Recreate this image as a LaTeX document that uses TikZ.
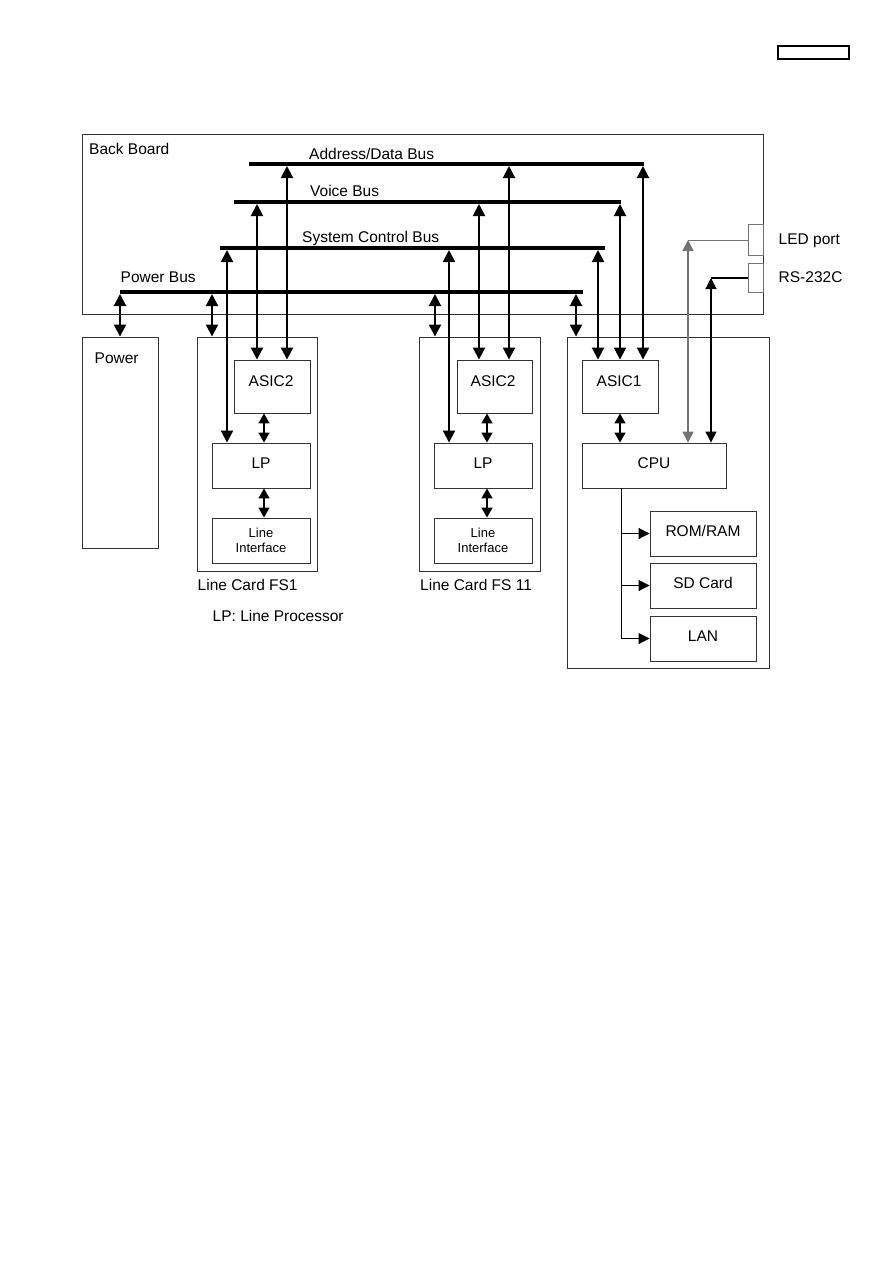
\documentclass[tikz,border=0pt]{standalone}
\usepackage{fontspec}
\setmainfont{Liberation Sans}
\usetikzlibrary{arrows.meta}

\begin{document}
\begin{tikzpicture}[x=1pt, y=-1pt,
    box/.style={draw=black!80, line width=0.9pt, inner sep=0pt},
    boxtxt/.style={font=\fontsize{15.5}{18}\selectfont, text height=11pt, text depth=5pt},
    txt/.style={font=\fontsize{15.5}{18}\selectfont, inner sep=0pt, anchor=base west},
    small/.style={font=\fontsize{13}{15}\selectfont, align=center},
    bus/.style={line width=4.5pt},
    both/.style={line width=2pt, {Triangle[length=12pt,width=12pt]}-{Triangle[length=12pt,width=12pt]}},
    link/.style={line width=1.6pt, {Triangle[length=10pt,width=11pt]}-{Triangle[length=10pt,width=11pt]}},
    port/.style={line width=1.2pt, {Triangle[length=11pt,width=11pt]}-{Triangle[length=11pt,width=11pt]}},
    feed/.style={line width=0.9pt, -{Triangle[length=11pt,width=11pt]}}]

    \useasboundingbox (0,0) rectangle (893,1263);

    % Page tag
    \node[draw, line width=1.4pt, minimum width=71pt, minimum height=13pt, inner sep=0pt] (tag) at (813.5,52.5) {};

    % Back board
    \node[box, minimum width=681pt, minimum height=180pt] (board) at (422.5,224) {};
    \node[txt] (boardl) at (89,154.5) {Back Board};

    % Buses
    \draw[bus] (249,164) coordinate (adw) -- (644,164) coordinate (ade);
    \draw[bus] (234,202) coordinate (vow) -- (621,202) coordinate (voe);
    \draw[bus] (220,248) coordinate (scw) -- (605,248) coordinate (sce);
    \draw[bus] (120,292) coordinate (pww) -- (583,292) coordinate (pwe);
    \node[txt] (adl) at (309,159) {Address/Data Bus};
    \node[txt] (vol) at (310,196.5) {Voice Bus};
    \node[txt] (scl) at (302,242) {System Control Bus};
    \node[txt] (pwl) at (120.5,282) {Power Bus};

    % Power unit
    \node[box, minimum width=76pt, minimum height=211pt] (power) at (120,442.5) {};
    \node[txt] (powerl) at (94.5,363.5) {Power};

    % Line card FS1
    \node[box, minimum width=120pt, minimum height=234pt] (cardA) at (257,454) {};
    \node[box, minimum width=76pt, minimum height=53pt] (asicA) at (272,386.5) {};
    \node[txt] (asicAl) at (248.5,386) {ASIC2};
    \node[box, boxtxt, minimum width=98pt, minimum height=45pt] (lpA) at (261,465.5) {LP};
    \node[box, small, minimum width=98pt, minimum height=45pt] (liA) at (261,540.5) {Line\\Interface};
    \node[txt] (cardAl) at (197.5,590) {Line Card FS1};
    \node[txt] (lpnote) at (212.5,621) {LP: Line Processor};

    % Line card FS 11
    \node[box, minimum width=121pt, minimum height=234pt] (cardB) at (479.5,454) {};
    \node[box, minimum width=75pt, minimum height=53pt] (asicB) at (494.5,386.5) {};
    \node[txt] (asicBl) at (470.5,386) {ASIC2};
    \node[box, boxtxt, minimum width=98pt, minimum height=45pt] (lpB) at (483,465.5) {LP};
    \node[box, small, minimum width=98pt, minimum height=45pt] (liB) at (483,540.5) {Line\\Interface};
    \node[txt] (cardBl) at (420,590) {Line Card FS 11};

    % Main card
    \node[box, minimum width=202pt, minimum height=331pt] (cardC) at (668,502.5) {};
    \node[box, minimum width=76pt, minimum height=53pt] (asicC) at (620,386.5) {};
    \node[txt] (asicCl) at (596.5,386) {ASIC1};
    \node[box, boxtxt, minimum width=144pt, minimum height=45pt] (cpu) at (654,465.5) {CPU};
    \node[box, boxtxt, minimum width=106pt, minimum height=45pt] (rom) at (703,533.5) {ROM/RAM};
    \node[box, boxtxt, minimum width=106pt, minimum height=45pt] (sd) at (703,585.5) {SD Card};
    \node[box, boxtxt, minimum width=106pt, minimum height=45pt] (lan) at (703,638.5) {LAN};

    % Ports
    \node[box, draw=black!55, minimum width=15pt, minimum height=31pt] (led) at (755.5,239.5) {};
    \node[box, draw=black!55, minimum width=15pt, minimum height=29pt] (rs) at (755.5,277.5) {};
    \node[txt] (ledl) at (778.5,244.5) {LED port};
    \node[txt] (rsl) at (778.5,282) {RS-232C};

    % Bus taps: x / y / target
    \foreach \x/\y/\m in {287/166/asicA, 509/166/asicB, 643/166/asicC,
                          257/204/asicA, 479/204/asicB, 620/204/asicC,
                          227/250/lpA, 449/250/lpB, 598/250/asicC,
                          120/294/power, 212/294/cardA, 435/294/cardB, 576/294/cardC} {
        \coordinate (t) at (\x,\y);
        \draw[both] (t) -- (t |- \m.north);
    }

    % Card internal links
    \draw[link] ([xshift=-8pt]asicA.south) -- ([xshift=-8pt]asicA.south |- lpA.north);
    \draw[link] ([xshift=-8pt]asicA.south |- lpA.south) -- ([xshift=-8pt]asicA.south |- liA.north);
    \draw[link] ([xshift=-7.5pt]asicB.south) -- ([xshift=-7.5pt]asicB.south |- lpB.north);
    \draw[link] ([xshift=-7.5pt]asicB.south |- lpB.south) -- ([xshift=-7.5pt]asicB.south |- liB.north);
    \draw[link] (asicC.south) -- (asicC.south |- cpu.north);

    % Port lines
    \coordinate (ledc) at (688,240);
    \coordinate (rsc) at (711,278);
    \draw[black!55, line width=1pt] (led.west |- ledc) -- (ledc);
    \draw[port, black!55] (ledc) -- (ledc |- cpu.north);
    \draw[line width=1.2pt] (rs.west |- rsc) -- (rsc);
    \draw[port] (rsc) -- (rsc |- cpu.north);

    % CPU to memory and interfaces
    \coordinate (trunk) at (621,488);
    \draw[line width=0.9pt] (trunk) -- (trunk |- lan.west);
    \foreach \m in {rom, sd, lan}
        \draw[feed] (trunk |- \m.west) -- (\m.west);

\end{tikzpicture}
\end{document}
